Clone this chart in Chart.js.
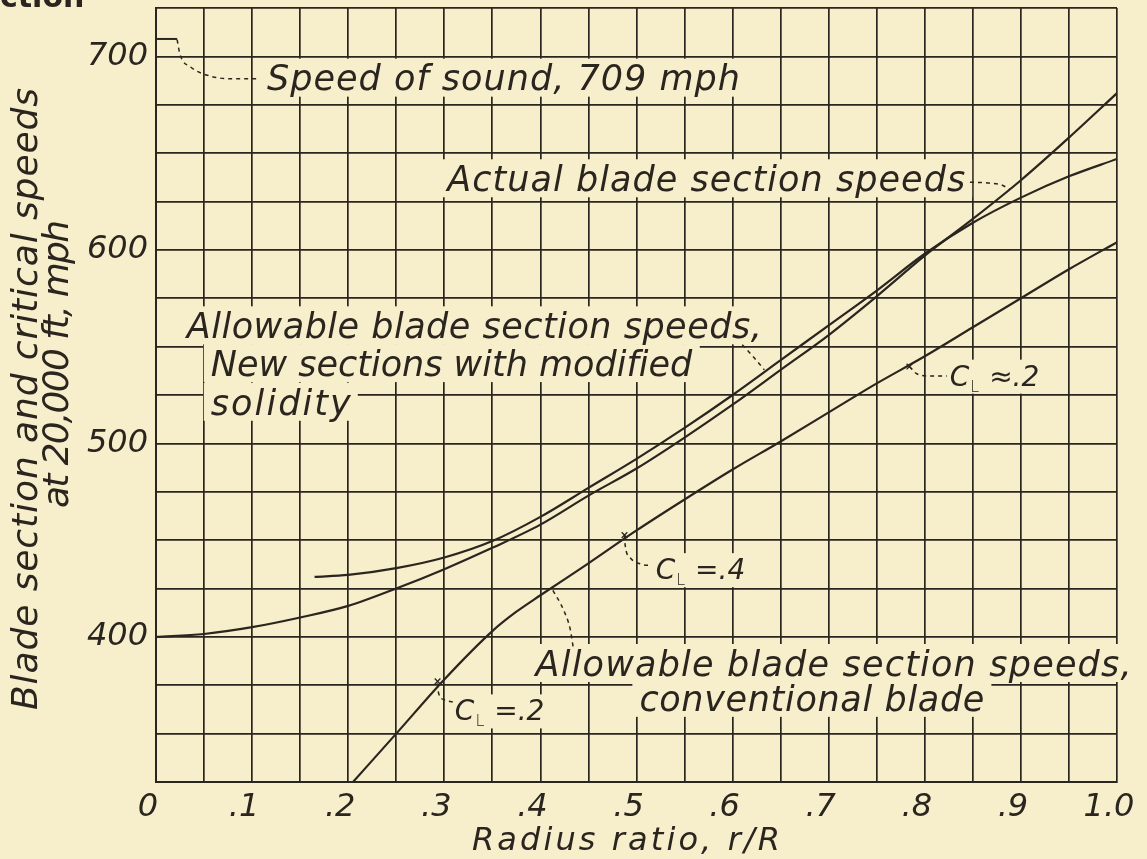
<!DOCTYPE html>
<html>
<head>
<meta charset="utf-8">
<script src="https://cdn.jsdelivr.net/npm/chart.js@4.4.1/dist/chart.umd.min.js"></script>
<style>
  html, body { margin: 0; background: #f7eecb; }
  canvas { display: block; }
</style>
</head>
<body>
<canvas id="chart" width="1147" height="859"></canvas>
<script>
// radius ratio r/R and speeds in mph
const actualR = [0, 0.05, 0.1, 0.15, 0.2, 0.25, 0.3, 0.35, 0.4, 0.45, 0.5, 0.55, 0.6, 0.65, 0.7, 0.75, 0.8, 0.85, 0.9, 0.95, 1.0];
const actualSpeed = [400, 401.5, 405, 410, 416, 425, 435, 446, 458, 473, 487, 503, 520, 538, 556, 576, 597, 616, 636, 658, 681];

const newR = [0.165, 0.2, 0.25, 0.3, 0.35, 0.4, 0.45, 0.5, 0.55, 0.6, 0.65, 0.7, 0.75, 0.8, 0.85, 0.9, 0.95, 1.0];
const newSpeed = [431, 432, 435.5, 441, 449.5, 462, 477, 492, 508, 525, 543, 561, 579, 598, 614, 627, 638, 647];

const convR = [0.205, 0.25, 0.3, 0.35, 0.375, 0.4, 0.45, 0.5, 0.55, 0.6, 0.65, 0.7, 0.75, 0.8, 0.85, 0.9, 0.95, 1.0];
const convSpeed = [325, 350, 378, 403, 413, 421.5, 438, 455, 471, 486.5, 501, 516, 531, 545, 560, 575, 590, 604];

const soundR = [0, 0.022];
const soundSpeed = [709, 709];

// C_L points marked on the conventional curve
const markR = [0.293, 0.4875, 0.784];
const markSpeed = [377, 452.6, 539.7];

// dashed leaders from the notes to the curves
const soundLeader = [[0.022, 708.6], [0.025, 701], [0.036, 694.5], [0.055, 690], [0.079, 688.4], [0.105, 688.4]];
const actualLeader = [[0.847, 635], [0.867, 634.5], [0.88, 633.5], [0.888, 631.5]];
const newLeader = [[0.61, 551], [0.622, 544.5], [0.633, 538]];
const convLeader = [[0.413, 424], [0.424, 414], [0.431, 404], [0.434, 395]];
const cl4Leader = [[0.4875, 452.6], [0.488, 448.2], [0.493, 441.2], [0.5036, 437.7], [0.516, 436.8]];
const cl2Leader = [[0.293, 376], [0.294, 371], [0.3, 367.5], [0.309, 366.3]];
const cl2bLeader = [[0.784, 539.7], [0.791, 536.2], [0.805, 534.8], [0.823, 534.8]];

const xTickLabels = ["0", ".1", ".2", ".3", ".4", ".5", ".6", ".7", ".8", ".9", "1.0"];
const yTickLabels = [400, 500, 600, 700];

const PAPER = "#f7eecb";
const INK = "#2a251e";
const FAMILY = "'DejaVu Sans', sans-serif";
const WEIGHT = 200;

// notes: left edge and cap-centre in data units, target width in px
const notes = [
    { x: 0.1155, y: 689, text: "Speed of sound, 709 mph", w: 473 },
    { x: 0.303, y: 637, text: "Actual blade section speeds", w: 518 },
    { x: 0.032, y: 561, text: "Allowable blade section speeds,", w: 575 },
    { x: 0.057, y: 541.5, text: "New sections with modified", w: 482 },
    { x: 0.057, y: 521.5, text: "solidity", w: 140 },
    { x: 0.395, y: 386.5, text: "Allowable blade section speeds,", w: 596 },
    { x: 0.503, y: 368.5, text: "conventional blade", w: 345 },
];
const clNotes = [
    { x: 0.826, y: 535, rest: " \u2248.2" },
    { x: 0.52, y: 435, rest: " =.4" },
    { x: 0.311, y: 362, rest: " =.2" },
];

function pts(xs, ys) {
    return xs.map(function (x, i) { return { x: x, y: ys[i] }; });
}
function pairs(list) {
    return list.map(function (p) { return { x: p[0], y: p[1] }; });
}

function fitText(ctx, text, x, y, width) {
    ctx.letterSpacing = "0px";
    var w = ctx.measureText(text).width;
    if (width && text.length > 1) {
        ctx.letterSpacing = (width - w) / (text.length - 1) + "px";
    }
    ctx.fillText(text, x, y);
    ctx.letterSpacing = "0px";
}

function font(size, upright) {
    return (upright ? "" : "italic ") + WEIGHT + " " + size + "px " + FAMILY;
}

function curve(data, width) {
    return {
        data: data,
        showLine: true,
        borderColor: INK,
        borderWidth: width || 2.2,
        pointRadius: 0,
        cubicInterpolationMode: "monotone",
    };
}
function leader(list) {
    var d = curve(pairs(list), 1.5);
    d.borderDash = [4, 4];
    return d;
}

const paper = {
    id: "paper",
    beforeDraw: function (chart) {
        var ctx = chart.ctx;
        ctx.save();
        ctx.fillStyle = PAPER;
        ctx.fillRect(0, 0, chart.width, chart.height);
        ctx.restore();
    },
};

const lettering = {
    id: "lettering",
    beforeDatasetsDraw: function (chart) {
        var ctx = chart.ctx,
            xs = chart.scales.x,
            ys = chart.scales.y;
        var size = 35, cap = size * 0.73;
        ctx.save();

        // paper behind the notes hides the grid
        ctx.fillStyle = PAPER;
        notes.forEach(function (n) {
            var px = xs.getPixelForValue(n.x), py = ys.getPixelForValue(n.y);
            ctx.fillRect(px - 7, py - 19, n.w + 14, 38);
        });
        clNotes.forEach(function (n) {
            var px = xs.getPixelForValue(n.x), py = ys.getPixelForValue(n.y);
            ctx.fillRect(px - 5, py - 16, 100, 34);
        });

        ctx.fillStyle = INK;
        ctx.textAlign = "left";
        ctx.textBaseline = "alphabetic";
        ctx.font = font(size);
        notes.forEach(function (n) {
            var px = xs.getPixelForValue(n.x), py = ys.getPixelForValue(n.y);
            fitText(ctx, n.text, px, py + cap / 2, n.w);
        });

        clNotes.forEach(function (n) {
            var px = xs.getPixelForValue(n.x), py = ys.getPixelForValue(n.y);
            var base = py + 10;
            ctx.font = font(28);
            ctx.fillText("C", px, base);
            var cw = ctx.measureText("C").width;
            ctx.font = font(16, true);
            ctx.fillText("L", px + cw + 1, base + 6);
            var lw = ctx.measureText("L").width;
            ctx.font = font(28);
            ctx.fillText(n.rest, px + cw + lw + 2, base);
        });
        ctx.restore();
    },
    afterDraw: function (chart) {
        var ctx = chart.ctx;
        ctx.save();
        ctx.fillStyle = INK;
        ctx.textAlign = "left";
        ctx.textBaseline = "alphabetic";

        // axis titles
        ctx.font = font(32);
        fitText(ctx, "Radius ratio, r/R", 626 - 154, 850, 308);

        ctx.font = font(36);
        ctx.save();
        ctx.translate(37, 399);
        ctx.rotate(-Math.PI / 2);
        fitText(ctx, "Blade section and critical speeds", -311, 0, 622);
        ctx.restore();

        ctx.save();
        ctx.translate(68, 364);
        ctx.rotate(-Math.PI / 2);
        fitText(ctx, "at 20,000 ft, mph", -144, 0, 288);
        ctx.restore();

        // caption cut off at the top edge of the photo
        ctx.font = "bold 30px " + FAMILY;
        ctx.fillText("ction", 0, 7);
        ctx.restore();
    },
};

const datasets = [
    curve(pts(actualR, actualSpeed)),
    curve(pts(newR, newSpeed)),
    curve(pts(convR, convSpeed)),
    curve(pts(soundR, soundSpeed), 2),
    leader(soundLeader),
    leader(actualLeader),
    leader(newLeader),
    leader(convLeader),
    leader(cl4Leader),
    leader(cl2Leader),
    leader(cl2bLeader),
    {
        data: pts(markR, markSpeed),
        showLine: false,
        pointStyle: "crossRot",
        pointRadius: 4,
        borderColor: INK,
        borderWidth: 1.3,
    },
];

const tickFont = { family: FAMILY, size: 32, style: "italic", weight: WEIGHT };

function noPadding(scale) {
    scale.paddingTop = 0;
    scale.paddingBottom = 0;
    scale.paddingLeft = 0;
    scale.paddingRight = 0;
}

new Chart(document.getElementById("chart"), {
    type: "scatter",
    data: { datasets: datasets },
    plugins: [paper, lettering],
    options: {
        responsive: false,
        animation: false,
        devicePixelRatio: 1,
        layout: { padding: { top: 8, right: 30, left: 0, bottom: 0 } },
        plugins: { legend: { display: false }, tooltip: { enabled: false } },
        scales: {
            x: {
                type: "linear",
                min: 0,
                max: 1,
                ticks: {
                    stepSize: 0.05,
                    autoSkip: false,
                    maxRotation: 0,
                    labelOffset: -8,
                    padding: 6,
                    color: INK,
                    font: tickFont,
                    callback: function (value) {
                        var k = Math.round(value * 20);
                        return k % 2 ? "" : xTickLabels[k / 2];
                    },
                },
                grid: { color: INK, lineWidth: 1.7, drawTicks: false },
                border: { color: INK, width: 2 },
                afterFit: function (scale) {
                    scale.height = 77;
                    noPadding(scale);
                },
            },
            y: {
                min: 325,
                max: 725,
                ticks: {
                    stepSize: 25,
                    autoSkip: false,
                    padding: 8,
                    color: INK,
                    font: tickFont,
                    callback: function (value) {
                        return yTickLabels.indexOf(value) >= 0 ? String(value) : "";
                    },
                },
                grid: { color: INK, lineWidth: 1.7, drawTicks: false },
                border: { color: INK, width: 2 },
                afterFit: function (scale) {
                    scale.width = 156;
                    noPadding(scale);
                },
            },
        },
    },
});
</script>
</body>
</html>
